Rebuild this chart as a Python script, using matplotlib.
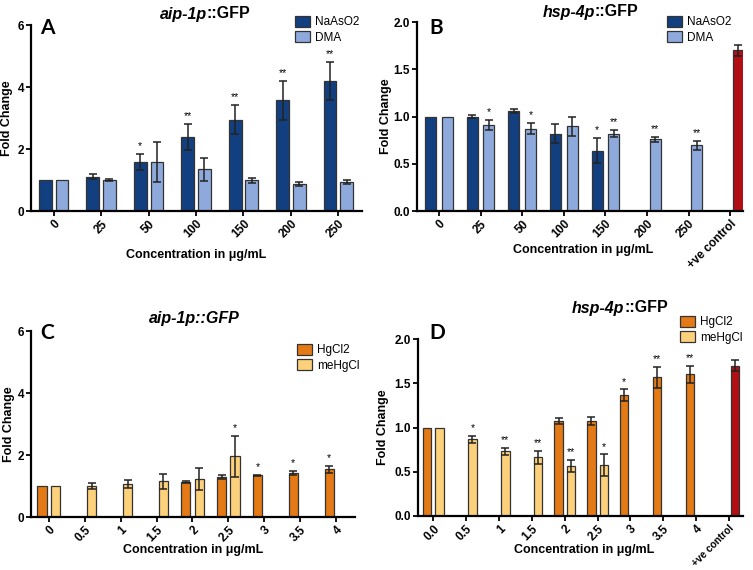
import numpy as np
import matplotlib
matplotlib.use('Agg')
import matplotlib.pyplot as plt

plt.rcParams['font.family'] = ['Liberation Sans', 'DejaVu Sans']
nan = np.nan

# ---------------- data ----------------
a_cats = ['0', '25', '50', '100', '150', '200', '250']
a_naaso2 = [1.0, 1.1, 1.58, 2.38, 2.95, 3.57, 4.19]
a_naaso2_err = [0.0, 0.08, 0.25, 0.42, 0.47, 0.63, 0.62]
a_dma = [1.0, 1.0, 1.57, 1.34, 0.99, 0.86, 0.925]
a_dma_err = [0.0, 0.03, 0.64, 0.38, 0.075, 0.06, 0.065]
a_naaso2_sig = ['', '', '*', '**', '**', '**', '**']
a_dma_sig = ['', '', '', '', '', '', '']

b_cats = ['0', '25', '50', '100', '150', '200', '250', '+ve control']
b_naaso2 = [1.0, 1.0, 1.06, 0.82, 0.64, nan, nan, nan]
b_naaso2_err = [0.0, 0.02, 0.02, 0.1, 0.13, nan, nan, nan]
b_dma = [1.0, 0.91, 0.87, 0.895, 0.82, 0.757, 0.694, nan]
b_dma_err = [0.0, 0.05, 0.06, 0.1, 0.035, 0.03, 0.045, nan]
b_ctrl = [nan, nan, nan, nan, nan, nan, nan, 1.70]
b_ctrl_err = [nan, nan, nan, nan, nan, nan, nan, 0.056]
b_naaso2_sig = ['', '', '', '', '*', '', '', '']
b_dma_sig = ['', '*', '*', '', '**', '**', '**', '']

c_cats = ['0', '0.5', '1', '1.5', '2', '2.5', '3', '3.5', '4']
c_hgcl2 = [1.0, nan, nan, nan, 1.13, 1.3, 1.34, 1.43, 1.54]
c_hgcl2_err = [0.0, nan, nan, nan, 0.02, 0.07, 0.03, 0.07, 0.11]
c_mehgcl = [1.0, 1.0, 1.056, 1.15, 1.23, 1.96, nan, nan, nan]
c_mehgcl_err = [0.0, 0.1, 0.13, 0.25, 0.35, 0.66, nan, nan, nan]
c_hgcl2_sig = ['', '', '', '', '', '', '*', '*', '*']
c_mehgcl_sig = ['', '', '', '', '', '*', '', '', '']

d_cats = ['0.0', '0.5', '1', '1.5', '2', '2.5', '3', '3.5', '4', '+ve control']
d_hgcl2 = [1.0, nan, nan, nan, 1.073, 1.073, 1.367, 1.567, 1.6, nan]
d_hgcl2_err = [0.0, nan, nan, nan, 0.03, 0.05, 0.064, 0.12, 0.1, nan]
d_mehgcl = [1.0, 0.866, 0.73, 0.663, 0.565, 0.576, nan, nan, nan, nan]
d_mehgcl_err = [0.0, 0.04, 0.04, 0.07, 0.07, 0.12, nan, nan, nan, nan]
d_ctrl = [nan, nan, nan, nan, nan, nan, nan, nan, nan, 1.70]
d_ctrl_err = [nan, nan, nan, nan, nan, nan, nan, nan, nan, 0.064]
d_hgcl2_sig = ['', '', '', '', '', '', '*', '**', '**', '']
d_mehgcl_sig = ['', '*', '**', '**', '**', '*', '', '', '', '']

# ---------------- style ----------------
NAVY = '#123f80'
LBLUE = '#8eaadd'
ORANGE = '#e47a16'
LORANGE = '#fdd17c'
RED = '#b10f14'
EDGE = '#333333'

W, H = 753, 570
fig = plt.figure(figsize=(W / 100, H / 100), dpi=100)


def px_axes(l, r, t, b):
    return fig.add_axes([l / W, 1 - b / H, (r - l) / W, (b - t) / H])


def draw_series(ax, vals, errs, sig, offset, width, color, label=None):
    x = np.arange(len(vals)) + offset
    v = np.array(vals, dtype=float)
    e = np.array(errs, dtype=float)
    m = ~np.isnan(v)
    bars = ax.bar(x[m], v[m], width=width, color=color, edgecolor=EDGE,
                  linewidth=0.9, label=label, zorder=2)
    em = m & (e > 0)
    ax.errorbar(x[em], v[em], yerr=e[em], fmt='none', ecolor='#222222',
                elinewidth=1.1, capsize=3, capthick=1.1, zorder=3)
    for xi, vi, ei, s in zip(x, v, e, sig):
        if s and not np.isnan(vi):
            ax.annotate(s, (xi, vi + (ei if not np.isnan(ei) else 0)),
                        xytext=(0, 2), textcoords='offset points',
                        ha='center', va='bottom', fontsize=7.5, zorder=4)
    return bars


def style_axes(ax, cats, ylim, yticks, yfmt, xlim, ylab_x):
    ax.set_xlim(*xlim)
    ax.set_ylim(*ylim)
    ax.set_xticks(np.arange(len(cats)))
    ax.set_xticklabels(cats, rotation=45, ha='right', rotation_mode='anchor',
                       fontsize=8.5, fontweight='bold')
    ax.set_yticks(yticks)
    ax.set_yticklabels([yfmt.format(t) for t in yticks], fontsize=8.5,
                       fontweight='bold')
    for s in ['top', 'right']:
        ax.spines[s].set_visible(False)
    for s in ['left', 'bottom']:
        ax.spines[s].set_linewidth(1.6)
    ax.tick_params(axis='both', direction='out', length=3.5, width=1.3, pad=1.5)
    ax.set_ylabel('Fold Change', fontsize=9, fontweight='bold')
    ax.yaxis.set_label_coords(ylab_x, 0.5)


def title2(x_seam, y, left, right, size=11.5):
    fig.text(x_seam / W, 1 - y / H, left, ha='right', va='center',
             fontsize=size, fontweight='bold', fontstyle='italic')
    fig.text(x_seam / W, 1 - y / H, right, ha='left', va='center',
             fontsize=size, fontweight='bold')


def letter(x, y, s):
    fig.text(x / W, 1 - y / H, s, ha='left', va='center', fontsize=15,
             fontweight='bold', family=['Lato', 'DejaVu Sans'])


def legend(ax, x, y):
    h, l = ax.get_legend_handles_labels()
    ax.legend(h[:2], l[:2], loc='upper left', bbox_to_anchor=(x / W, 1 - y / H),
              bbox_transform=fig.transFigure, frameon=False, fontsize=8.5,
              handlelength=1.3, handleheight=1.0, handletextpad=0.4,
              labelspacing=0.25, borderpad=0, borderaxespad=0)


XLAB = dict(fontsize=9, fontweight='bold')

# ---------------- Panel A ----------------
axA = px_axes(31, 362, 25, 211)
off, bw = 0.175, 0.27
draw_series(axA, a_naaso2, a_naaso2_err, a_naaso2_sig, -off, bw, NAVY, 'NaAsO2')
draw_series(axA, a_dma, a_dma_err, a_dma_sig, off, bw, LBLUE, 'DMA')
style_axes(axA, a_cats, (0, 6), [0, 2, 4, 6], '{:g}', (-0.48, 6.5), -0.055)
axA.set_xlabel('Concentration in μg/mL', labelpad=6, **XLAB)
legend(axA, 295, 16)
title2(207, 14, 'aip-1p', '::GFP')
letter(40, 28, 'A')

# ---------------- Panel B ----------------
axB = px_axes(417, 743, 22, 211)
off, bw = 0.2, 0.265
draw_series(axB, b_naaso2, b_naaso2_err, b_naaso2_sig, -off, bw, NAVY, 'NaAsO2')
draw_series(axB, b_dma, b_dma_err, b_dma_sig, off, bw, LBLUE, 'DMA')
draw_series(axB, b_ctrl, b_ctrl_err, [''] * 8, off, bw, RED)
style_axes(axB, b_cats, (0, 2), [0, 0.5, 1.0, 1.5, 2.0], '{:.1f}', (-0.53, 7.31),
           -0.077)
axB.set_xlabel('Concentration in μg/mL', **XLAB)
axB.xaxis.set_label_coords(0.51, -0.174)
legend(axB, 667, 16)
title2(595, 12, 'hsp-4p', '::GFP')
letter(429, 28, 'B')

# ---------------- Panel C ----------------
axC = px_axes(31, 355, 331, 517)
off, bw = 0.19, 0.26
draw_series(axC, c_hgcl2, c_hgcl2_err, c_hgcl2_sig, -off, bw, ORANGE, 'HgCl2')
draw_series(axC, c_mehgcl, c_mehgcl_err, c_mehgcl_sig, off, bw, LORANGE, 'meHgCl')
style_axes(axC, c_cats, (0, 6), [0, 2, 4, 6], '{:g}', (-0.5, 8.53), -0.05)
axC.set_xlabel('Concentration in μg/mL', labelpad=0, **XLAB)
legend(axC, 297, 344)
fig.text(194 / W, 1 - 318 / H, 'aip-1p::GFP', ha='center', va='center',
         fontsize=11.5, fontweight='bold', fontstyle='italic')
letter(40, 333, 'C')

# ---------------- Panel D ----------------
axD = px_axes(418, 743, 339, 516)
off, bw = 0.19, 0.26
draw_series(axD, d_hgcl2, d_hgcl2_err, d_hgcl2_sig, -off, bw, ORANGE, 'HgCl2')
draw_series(axD, d_mehgcl, d_mehgcl_err, d_mehgcl_sig, off, bw, LORANGE, 'meHgCl')
draw_series(axD, d_ctrl, d_ctrl_err, [''] * 10, off, bw, RED)
style_axes(axD, d_cats, (0, 2), [0, 0.5, 1.0, 1.5, 2.0], '{:.1f}', (-0.47, 9.43),
           -0.088)
axD.get_xticklabels()[-1].set_fontsize(7.3)
axD.set_xlabel('Concentration in μg/mL', **XLAB)
axD.xaxis.set_label_coords(0.51, -0.158)
legend(axD, 680, 316)
title2(624, 308, 'hsp-4p', '::GFP')
letter(429, 333, 'D')

fig.savefig('out.png', dpi=100)
